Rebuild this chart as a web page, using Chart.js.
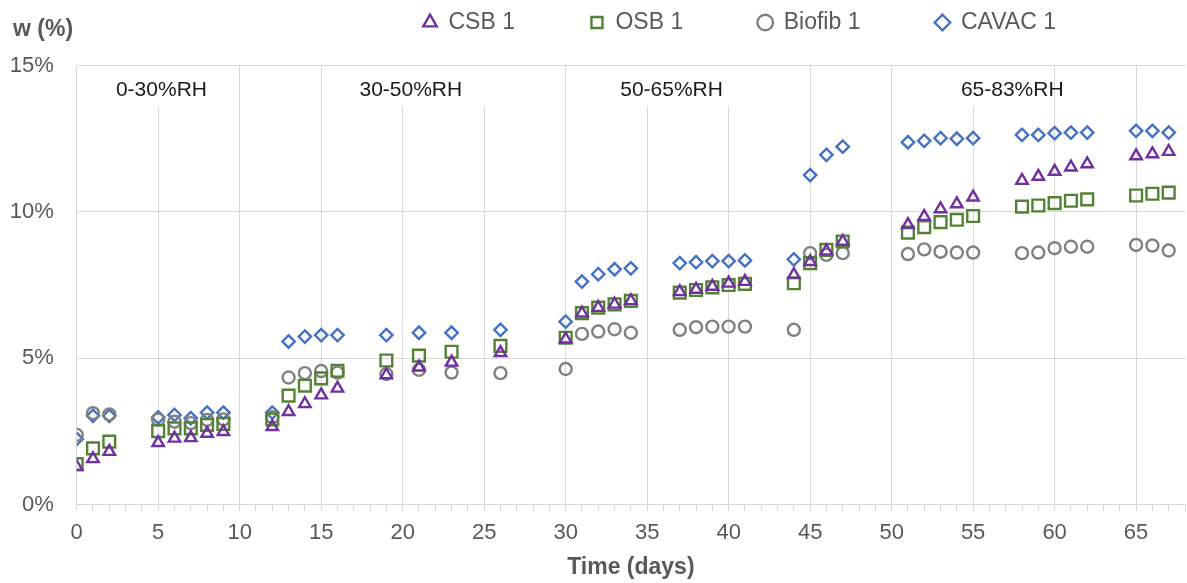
<!DOCTYPE html>
<html>
<head>
<meta charset="utf-8">
<script src="https://cdn.jsdelivr.net/npm/chart.js@4.4.1/dist/chart.umd.min.js"></script>
<style>
  html, body { margin: 0; padding: 0; background: #fff; }
</style>
</head>
<body>
<canvas id="chart" width="1187" height="583"></canvas>
<script>
// time of each weighing (days)
const days = [0, 1, 2, 5, 6, 7, 8, 9, 12, 13, 14, 15, 16, 19, 21, 23, 26,
  30, 31, 32, 33, 34, 37, 38, 39, 40, 41, 44, 45, 46, 47,
  51, 52, 53, 54, 55, 58, 59, 60, 61, 62, 65, 66, 67];

// moisture content w (%)
const csb = [1.29, 1.56, 1.81, 2.11, 2.26, 2.28, 2.43, 2.49, 2.66, 3.17, 3.44, 3.74, 3.97, 4.43, 4.69, 4.86, 5.19,
  5.65, 6.54, 6.73, 6.84, 6.96, 7.27, 7.35, 7.45, 7.56, 7.62, 7.85, 8.30, 8.66, 8.99,
  9.56, 9.84, 10.10, 10.27, 10.50, 11.07, 11.21, 11.38, 11.53, 11.64, 11.91, 11.98, 12.06];
const osb = [1.38, 1.92, 2.15, 2.51, 2.60, 2.60, 2.72, 2.75, 2.91, 3.72, 4.06, 4.31, 4.57, 4.92, 5.09, 5.22, 5.42,
  5.70, 6.54, 6.73, 6.84, 6.96, 7.24, 7.33, 7.42, 7.50, 7.54, 7.56, 8.25, 8.70, 8.99,
  9.29, 9.48, 9.65, 9.73, 9.86, 10.18, 10.22, 10.30, 10.38, 10.43, 10.56, 10.62, 10.66];
const biofib = [2.38, 3.12, 3.08, 2.90, 2.83, 2.78, 2.89, 2.91, 2.98, 4.34, 4.49, 4.56, 4.51, 4.46, 4.60, 4.51, 4.49,
  4.63, 5.83, 5.91, 5.99, 5.87, 5.97, 6.06, 6.08, 6.08, 6.08, 5.97, 8.59, 8.53, 8.59,
  8.56, 8.72, 8.64, 8.61, 8.61, 8.59, 8.61, 8.76, 8.81, 8.81, 8.87, 8.85, 8.68];
const cavac = [2.24, 3.03, 3.03, 2.98, 3.06, 2.95, 3.14, 3.14, 3.14, 5.57, 5.74, 5.79, 5.79, 5.79, 5.87, 5.87, 5.97,
  6.25, 7.62, 7.87, 8.04, 8.07, 8.25, 8.28, 8.32, 8.32, 8.34, 8.38, 11.26, 11.95, 12.23,
  12.38, 12.43, 12.52, 12.50, 12.52, 12.63, 12.63, 12.69, 12.71, 12.71, 12.77, 12.77, 12.71];

const seriesNames = ['CSB 1', 'OSB 1', 'Biofib 1', 'CAVAC 1'];
const rhLabels = ['0-30%RH', '30-50%RH', '50-65%RH', '65-83%RH'];
const rhCenters = [5.2, 20.5, 36.5, 57.4];

const grey = '#595959';
const family = '"Liberation Sans", Arial, sans-serif';

const toPoints = vals => vals.map((v, i) => ({ x: days[i], y: v }));

function series(label, vals, color, style, r, bw) {
  return {
    label: label,
    data: toPoints(vals),
    pointStyle: style,
    pointRadius: r,
    pointHoverRadius: r,
    pointBorderWidth: bw,
    borderWidth: bw,
    borderColor: color,
    pointBorderColor: color,
    backgroundColor: 'rgba(0,0,0,0)',
    pointBackgroundColor: 'rgba(0,0,0,0)'
  };
}

// RH stage labels, white box hides grid lines behind them
const rhBoxes = [[2.5, 8], [16.5, 26.3], [31.5, 41.3], [54.5, 59.8]];
const stagePlugin = {
  id: 'stages',
  afterLayout(chart) {
    const lg = chart.legend;
    const w = lg.right - lg.left;
    lg.left = 348;
    lg.right = lg.left + w;
    lg.top = 11 - lg.options.labels.padding;
    chart.titleBlock.left += 4;
    chart.titleBlock.right += 4;
  },
  beforeDatasetsDraw(chart) {
    const { ctx, scales: { x, y } } = chart;
    ctx.save();
    ctx.font = '21px ' + family;
    ctx.textAlign = 'center';
    ctx.textBaseline = 'middle';
    const top = y.getPixelForValue(15) + 1;
    const bot = y.getPixelForValue(13.6);
    rhLabels.forEach((t, i) => {
      const l = x.getPixelForValue(rhBoxes[i][0]);
      const r = x.getPixelForValue(rhBoxes[i][1]);
      ctx.fillStyle = '#ffffff';
      ctx.fillRect(l, top, r - l, bot - top);
      ctx.fillStyle = '#1a1a1a';
      ctx.fillText(t, x.getPixelForValue(rhCenters[i]), y.getPixelForValue(14.17));
    });
    ctx.restore();
  }
};

new Chart(document.getElementById('chart'), {
  type: 'scatter',
  data: {
    datasets: [
      series(seriesNames[0], csb, '#7030A0', 'triangle', 6.6, 2.4),
      series(seriesNames[1], osb, '#548235', 'rect', 8.3, 2.4),
      series(seriesNames[2], biofib, '#808080', 'circle', 6, 2.4),
      series(seriesNames[3], cavac, '#4472C4', 'rectRot', 6.2, 2.4)
    ]
  },
  options: {
    responsive: false,
    animation: false,
    layout: { autoPadding: false, padding: { left: 9, right: 2, top: 0, bottom: 0 } },
    plugins: {
      tooltip: { enabled: false },
      title: {
        display: true,
        text: 'w (%)',
        align: 'start',
        color: grey,
        font: { family: family, size: 23, weight: 'bold' },
        padding: { top: 16, bottom: 0 }
      },
      legend: {
        position: 'top',
        align: 'start',
        maxHeight: 22,
        labels: {
          usePointStyle: true,
          boxWidth: 14,
          boxHeight: 11,
          padding: 75,
          color: grey,
          font: { family: family, size: 23 }
        }
      }
    },
    scales: {
      x: {
        type: 'linear',
        min: 0,
        max: 68,
        afterFit: axis => {
          axis.height = 78.5;
          axis.paddingRight = 0;
        },
        title: {
          display: true,
          text: 'Time (days)',
          color: grey,
          font: { family: family, size: 23, weight: 'bold' },
          padding: { top: 7, bottom: 2 }
        },
        ticks: {
          stepSize: 1,
          autoSkip: false,
          maxRotation: 0,
          includeBounds: false,
          padding: 9.5,
          color: grey,
          font: { family: family, size: 22 },
          callback: v => (v % 5 === 0 ? v : '')
        },
        grid: {
          color: c => (c.tick && c.tick.value % 5 === 0 ? '#d9d9d9' : 'rgba(0,0,0,0)'),
          tickColor: '#d9d9d9',
          tickLength: 6
        },
        border: { color: '#d9d9d9' }
      },
      y: {
        min: 0,
        max: 15,
        afterFit: axis => { axis.width = 67.7; },
        ticks: {
          stepSize: 5,
          padding: 23,
          color: grey,
          font: { family: family, size: 22 },
          callback: v => v + '%'
        },
        grid: { color: '#d9d9d9', drawTicks: false },
        border: { color: '#d9d9d9' }
      }
    }
  },
  plugins: [stagePlugin]
});
</script>
</body>
</html>
